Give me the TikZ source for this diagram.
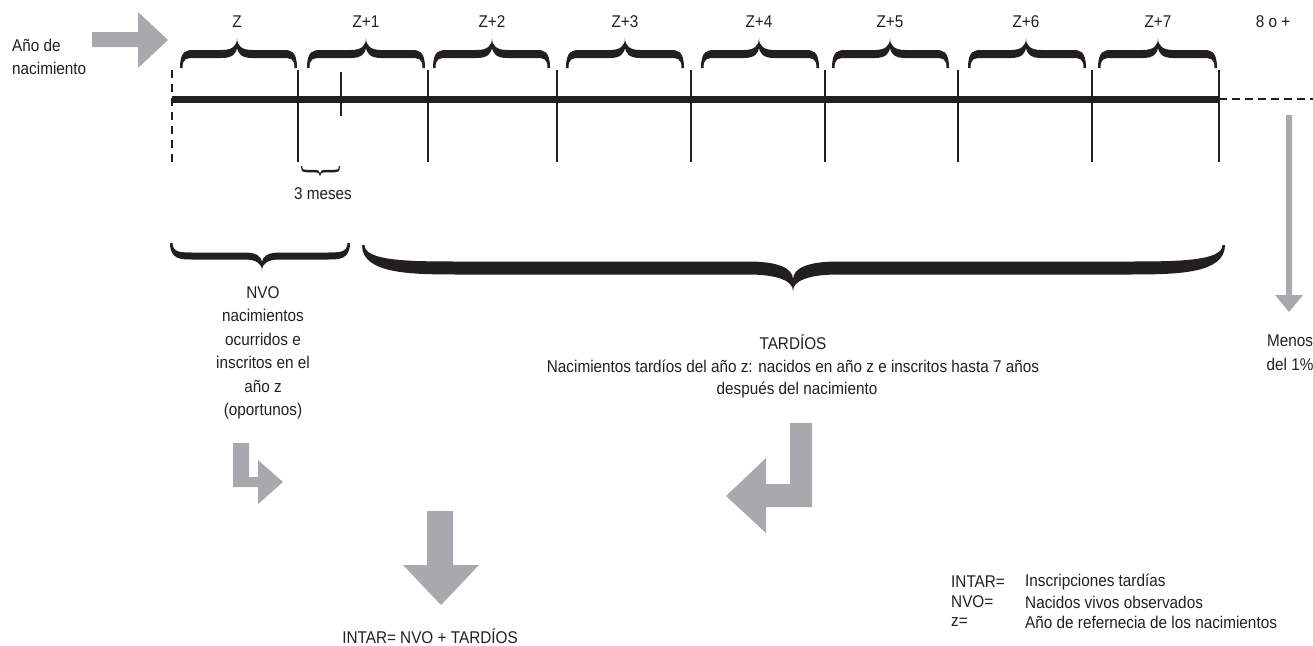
\documentclass[tikz,border=0pt]{standalone}
\usepackage{fontspec}
\setmainfont{Liberation Sans}[FakeStretch=0.9]
\definecolor{arrowgray}{HTML}{A7A9AC}
\definecolor{ink}{HTML}{231F20}
\def\bS{15}
\def\bE{2.5}
% #1 xa, #2 xb, #3 xm, #4 y of ends, #5 dir (1 up, -1 down), #6 h flat, #7 H tip, #8 thickness, #9 end radius
\newcommand\cbrace[9]{%
\begin{scope}[shift={(0,#4)},yscale=#5]
\fill[ink] (#1,0) .. controls (#1,-#6-#8/2) and (#1+#9/2,-#6-#8/2) .. (#1+#9,-#6-#8/2)
 -- (#3-\bS,-#6-#8/2) .. controls (#3-\bS/3,-#6-#8/2) and (#3,-#6-#8) .. (#3,-#7)
 .. controls (#3,-#6-#8) and (#3+\bS/3,-#6-#8/2) .. (#3+\bS,-#6-#8/2)
 -- (#2-#9,-#6-#8/2) .. controls (#2-#9/2,-#6-#8/2) and (#2,-#6-#8/2) .. (#2,0)
 -- (#2-\bE,0) .. controls (#2-\bE,-#6+#8/2) and (#2-#9/2,-#6+#8/2) .. (#2-#9,-#6+#8/2)
 -- (#3+\bS,-#6+#8/2) .. controls (#3+\bS/3,-#6+#8/2) and (#3,-#6) .. (#3,-#6/2-#7/2)
 .. controls (#3,-#6) and (#3-\bS/3,-#6+#8/2) .. (#3-\bS,-#6+#8/2)
 -- (#1+#9,-#6+#8/2) .. controls (#1+#9/2,-#6+#8/2) and (#1+\bE,-#6+#8/2) .. (#1+\bE,0) -- cycle;
\end{scope}}
\begin{document}
\begin{tikzpicture}[x=1pt,y=-1pt,
  lbl/.style={inner sep=0pt,text=ink,font=\fontsize{17}{23.5}\selectfont},
  ctr/.style={lbl,align=center},
  tick/.style={draw=ink,line width=2pt},
  garrow/.style={fill=arrowgray}]
\useasboundingbox (0,0) rectangle (1313,645);
% big arrow top left
\fill[garrow] (92,32) -- (138,32) -- (138,12) -- (168,40) -- (138,68) -- (138,47) -- (92,47) -- cycle;
\node[lbl,align=left,anchor=west] (ano) at (12,57) {Año de\\nacimiento};
% time axis
\coordinate (a0) at (172,99);
\coordinate (a1) at (1219,99);
\coordinate (a2) at (1313,99);
\draw[ink,line width=7pt] (a0) -- (a1);
\draw[ink,line width=2pt,dash pattern=on 8pt off 5pt] (a1) -- (a2);
\coordinate (d0) at (172,70);
\coordinate (d1) at (172,162);
\draw[ink,line width=2.5pt,dash pattern=on 8pt off 6pt] (d0) -- (d1);
\foreach \x in {298,428,557,691,825,958,1092,1219}{
  \draw[tick] (\x,70) -- (\x,162);
}
\draw[tick] (341,72) -- (341,116);
% year braces
\def\bS{15}
\cbrace{180}{297}{237}{68}{1}{14}{30}{8}{14}
\cbrace{307}{425}{366}{68}{1}{14}{30}{8}{14}
\cbrace{433}{550}{492}{68}{1}{14}{30}{8}{14}
\cbrace{566}{684}{625}{68}{1}{14}{30}{8}{14}
\cbrace{701}{819}{759}{68}{1}{14}{30}{8}{14}
\cbrace{832}{949}{890}{68}{1}{14}{30}{8}{14}
\cbrace{968}{1086}{1026}{68}{1}{14}{30}{8}{14}
\cbrace{1098}{1217}{1158}{68}{1}{14}{30}{8}{14}
\node[lbl] (z0) at (237,22) {Z};
\node[lbl] (z1) at (366,22) {Z+1};
\node[lbl] (z2) at (492,22) {Z+2};
\node[lbl] (z3) at (625,22) {Z+3};
\node[lbl] (z4) at (759,22) {Z+4};
\node[lbl] (z5) at (890,22) {Z+5};
\node[lbl] (z6) at (1026,22) {Z+6};
\node[lbl] (z7) at (1158,22) {Z+7};
\node[lbl] (z8) at (1273,22) {8 o +};
% 3 meses
\def\bS{6}
\def\bE{1.2}
\cbrace{301}{340}{320}{166}{-1}{5}{10}{2.5}{5}
\node[lbl] (tres) at (323,194) {3 meses};
% lower braces
\def\bE{2.5}
\def\bS{18}
\cbrace{170}{350}{262}{243}{-1}{13}{28}{7}{22}
\def\bS{45}
\cbrace{362}{1225}{793}{245}{-1}{23}{46}{13}{100}
\node[ctr,anchor=north] (nvo) at (263,286) {NVO\\nacimientos\\ocurridos e\\inscritos en el\\año z\\(oportunos)};
\node[lbl] (tard) at (793,342) {TARDÍOS};
\node[lbl] (tard2) at (793,366) {Nacimientos tardíos del año z: nacidos en año z e inscritos hasta 7 años};
\node[lbl] (tard3) at (797,390) {después del nacimiento};
% right down arrow
\fill[garrow] (1286,115) -- (1292,115) -- (1292,295) -- (1303,295) -- (1289,312) -- (1275,295) -- (1286,295) -- cycle;
\node[ctr,anchor=north] (menos) at (1290,335) {Menos\\del 1\%};
% bent arrows
\fill[garrow] (233,443) -- (249,443) -- (249,477) -- (258,477) -- (258,460) -- (283,482) -- (258,504) -- (258,487) -- (233,487) -- cycle;
\fill[garrow] (427,511) -- (453,511) -- (453,565) -- (479,565) -- (441,605) -- (403,565) -- (427,565) -- cycle;
\fill[garrow] (790,423) -- (812,423) -- (812,507) -- (766,507) -- (766,533) -- (726,496) -- (766,458) -- (766,484) -- (790,484) -- cycle;
\node[lbl,anchor=base] (intar) at (430,643) {INTAR= NVO + TARDÍOS};
% legend
\node[lbl,anchor=west] (k1) at (951,582) {INTAR=};
\node[lbl,anchor=west] (k2) at (951,602) {NVO=};
\node[lbl,anchor=west] (k3) at (951,622) {z=};
\node[lbl,anchor=west] (v1) at (1025,582) {Inscripciones tardías};
\node[lbl,anchor=west] (v2) at (1025,602) {Nacidos vivos observados};
\node[lbl,anchor=west] (v3) at (1025,622) {Año de refernecia de los nacimientos};
\end{tikzpicture}
\end{document}
